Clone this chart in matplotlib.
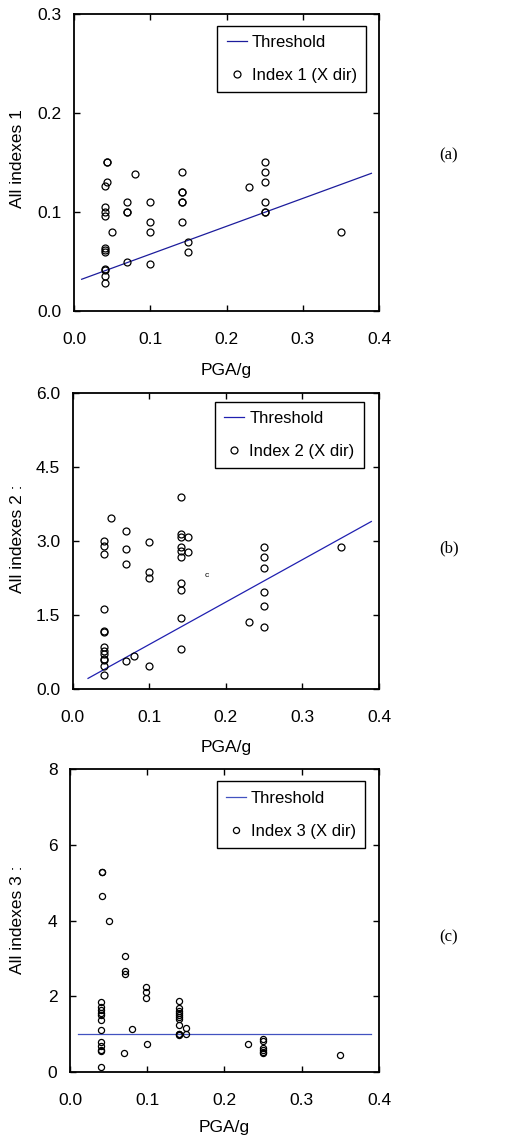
import numpy as np
import matplotlib
matplotlib.use('Agg')
import matplotlib.pyplot as plt

plt.rcParams['font.family'] = ['Liberation Sans', 'DejaVu Sans']

# Index 1 (X dir)
x1 = [0.043, 0.043, 0.043, 0.04, 0.04, 0.04, 0.04, 0.04, 0.04, 0.04, 0.04, 0.04, 0.04, 0.04,
      0.05, 0.07, 0.07, 0.07, 0.07, 0.08, 0.099, 0.099, 0.099, 0.1,
      0.141, 0.141, 0.141, 0.141, 0.141, 0.141, 0.15, 0.15, 0.23,
      0.25, 0.25, 0.25, 0.25, 0.25, 0.25, 0.35]
y1 = [0.150, 0.150, 0.130, 0.126, 0.105, 0.100, 0.096, 0.064, 0.062, 0.060, 0.042, 0.041, 0.035, 0.028,
      0.080, 0.110, 0.100, 0.100, 0.049, 0.138, 0.110, 0.090, 0.080, 0.047,
      0.140, 0.120, 0.120, 0.110, 0.110, 0.090, 0.070, 0.060, 0.125,
      0.150, 0.140, 0.130, 0.110, 0.100, 0.100, 0.080]
thr1_x = [0.01, 0.39]
thr1_y = [0.032, 0.139]

# Index 2 (X dir)
x2 = [0.041] * 13 + [0.05, 0.07, 0.07, 0.07, 0.07, 0.08, 0.1, 0.1, 0.1, 0.1] + \
     [0.141] * 10 + [0.15, 0.15, 0.23] + [0.25] * 6 + [0.35]
y2 = [2.99, 2.89, 2.74, 1.62, 1.18, 1.16, 0.84, 0.76, 0.70, 0.61, 0.58, 0.47, 0.27,
      3.46, 3.20, 2.84, 2.53, 0.56, 0.67, 2.98, 2.36, 2.25, 0.47,
      3.89, 3.13, 3.08, 2.88, 2.79, 2.67, 2.15, 2.01, 1.43, 0.81,
      3.08, 2.78, 1.36,
      2.88, 2.67, 2.44, 1.97, 1.68, 1.26, 2.88]
thr2_x = [0.02, 0.39]
thr2_y = [0.21, 3.39]
stray2 = (0.175, 2.30)

# Index 3 (X dir)
x3 = [0.042, 0.042, 0.042] + [0.04] * 12 + [0.05, 0.071, 0.071, 0.071, 0.07, 0.08,
      0.099, 0.099, 0.099, 0.1] + [0.141] * 11 + [0.15, 0.15, 0.23] + [0.25] * 6 + [0.35]
y3 = [5.29, 5.29, 4.64,
      1.85, 1.73, 1.65, 1.57, 1.52, 1.37, 1.10, 0.80, 0.70, 0.59, 0.56, 0.14,
      3.99, 3.07, 2.67, 2.59, 0.49, 1.14,
      2.25, 2.11, 1.95, 0.74,
      1.88, 1.70, 1.62, 1.55, 1.51, 1.46, 1.41, 1.24, 1.01, 1.01, 0.97,
      1.17, 1.01, 0.73,
      0.87, 0.81, 0.64, 0.58, 0.54, 0.51, 0.44]
thr3_x = [0.01, 0.39]
thr3_y = [1.0, 1.0]

x_ticks = [0.0, 0.1, 0.2, 0.3, 0.4]


def style_axes(ax, yticks, yfmt):
    ax.set_xlim(0, 0.4)
    ax.set_ylim(yticks[0], yticks[-1])
    ax.set_xticks(x_ticks)
    ax.set_xticklabels(['%.1f' % t for t in x_ticks])
    ax.set_yticks(yticks)
    ax.set_yticklabels([yfmt % t for t in yticks])
    ax.tick_params(direction='in', top=True, right=True, length=4, width=1.0,
                   labelsize=12.5)
    ax.tick_params(axis='x', pad=15)
    ax.tick_params(axis='y', pad=9)
    for s in ax.spines.values():
        s.set_linewidth(1.3)
    ax.set_xlabel('PGA/g', fontsize=12.5)


fig = plt.figure(figsize=(5.07, 11.39), dpi=100)

panels = [
    dict(rect=[0.146, 0.727, 0.6016, 0.2608], x=x1, y=y1, tx=thr1_x, ty=thr1_y,
         color='#1c1c9c', ms=5.0, yticks=[0.0, 0.1, 0.2, 0.3], yfmt='%.1f',
         ylabel='All indexes 1', lab=(-0.16, 0.512), name='Index 1 (X dir)',
         leg=(0.957, 0.96), xlab=-0.175, tag='(a)', tag_y=155),
    dict(rect=[0.1434, 0.3953, 0.6041, 0.2599], x=x2, y=y2, tx=thr2_x, ty=thr2_y,
         color='#2020b0', ms=5.0, yticks=[0.0, 1.5, 3.0, 4.5, 6.0], yfmt='%.1f',
         ylabel='All indexes 2 :', lab=(-0.156, 0.507), name='Index 2 (X dir)',
         leg=(0.95, 0.97), xlab=-0.172, tag='(b)', tag_y=548),
    dict(rect=[0.138, 0.0588, 0.6095, 0.2658], x=x3, y=y3, tx=thr3_x, ty=thr3_y,
         color='#4252c0', ms=4.4, yticks=[0, 2, 4, 6, 8], yfmt='%d',
         ylabel='All indexes 3 :', lab=(-0.146, 0.503), name='Index 3 (X dir)',
         leg=(0.955, 0.96), xlab=-0.158, tag='(c)', tag_y=937),
]

for p in panels:
    ax = fig.add_axes(p['rect'])
    ax.plot(p['tx'], p['ty'], '-', color=p['color'], linewidth=0.9, label='Threshold')
    ax.plot(p['x'], p['y'], 'o', markerfacecolor='none', markeredgecolor='black',
            markersize=p['ms'], markeredgewidth=0.9, label=p['name'])
    style_axes(ax, p['yticks'], p['yfmt'])
    ax.set_ylabel(p['ylabel'], fontsize=12.5)
    ax.yaxis.set_label_coords(*p['lab'])
    ax.xaxis.set_label_coords(0.5, p['xlab'])
    leg = ax.legend(loc='upper right', bbox_to_anchor=p['leg'], borderaxespad=0,
                    fontsize=12, fancybox=False, framealpha=1, edgecolor='black',
                    handlelength=1.2, handletextpad=0.3, labelspacing=1.1,
                    borderpad=0.55)
    leg.get_frame().set_linewidth(1.0)
    fig.text(449 / 507, 1 - p['tag_y'] / 1139, p['tag'], ha='center', va='center',
             fontsize=12, family='Liberation Serif')
    if p['tag'] == '(b)':
        ax.text(stray2[0], stray2[1], 'c', fontsize=6, ha='center', va='center')

fig.savefig('out.png', dpi=100)
